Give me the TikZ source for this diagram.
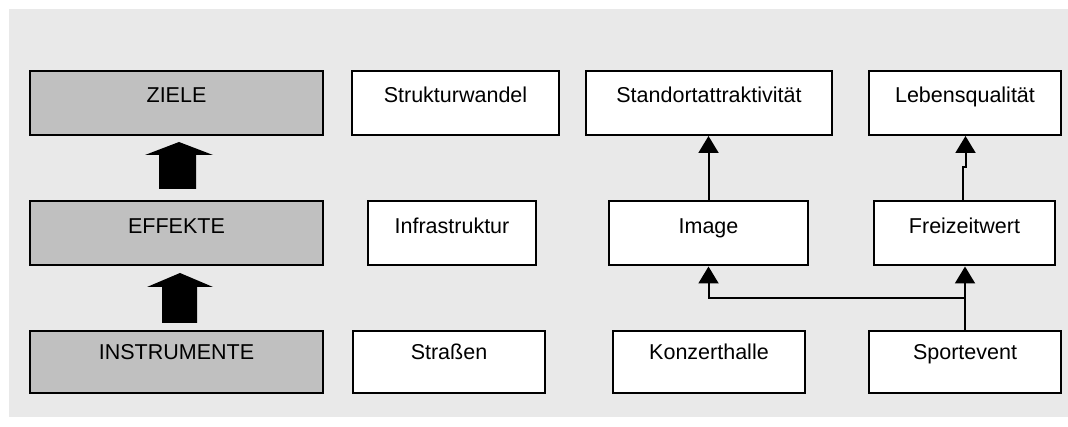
\documentclass[tikz,border=0pt]{standalone}
\usepackage{fontspec}
\setmainfont{Liberation Sans}
\usetikzlibrary{arrows.meta}
\definecolor{bggray}{HTML}{E9E9E9}
\definecolor{hdrgray}{HTML}{C0C0C0}
\begin{document}
\begin{tikzpicture}[x=1pt,y=-1pt,
  every node/.style={font=\fontsize{21.5pt}{22pt}\selectfont},
  boxA/.style={draw=black, line width=2pt, fill=white, inner xsep=0pt, inner ysep=0pt,
               anchor=north, text height=32pt, text depth=32pt},
  boxB/.style={boxA, text height=29pt, text depth=33pt},
  hdr/.style={fill=hdrgray},
  conn/.style={line width=2pt, -{Triangle[width=20pt,length=17pt]}},
  bigarrow/.style={fill=black}
]
\useasboundingbox (0,0) rectangle (1068,427);
\fill[bggray] (9,9) rectangle (1068,417);

% row 1
\node[boxA,hdr,minimum width=293pt] (ziele) at (176.5,70) {ZIELE};
\node[boxA,minimum width=207pt] (struk) at (455.5,70) {Strukturwandel};
\node[boxA,minimum width=246pt] (stand) at (709,70) {Standortattraktivität};
\node[boxA,minimum width=192pt] (leben) at (965,70) {Lebensqualität};
% row 2
\node[boxA,hdr,minimum width=293pt] (eff) at (176.5,200.5) {EFFEKTE};
\node[boxA,minimum width=168pt] (infra) at (452,200.5) {Infrastruktur};
\node[boxA,minimum width=199pt] (img) at (708.5,200.5) {Image};
\node[boxA,minimum width=181pt] (frei) at (964.5,200.5) {Freizeitwert};
% row 3
\node[boxB,hdr,minimum width=293pt] (instr) at (176.5,330) {INSTRUMENTE};
\node[boxB,minimum width=192pt] (str) at (449,330) {Straßen};
\node[boxB,minimum width=192pt] (konz) at (709,330) {Konzerthalle};
\node[boxB,minimum width=192pt] (sport) at (965,330) {Sportevent};

% big block arrows
\fill[bigarrow] (159,189) -- (159,155) -- (145,155) -- (179,142) -- (213,155) -- (196,155) -- (196,189) -- cycle;
\fill[bigarrow] (162,323) -- (162,287) -- (147,287) -- (180,273) -- (213,287) -- (197,287) -- (197,323) -- cycle;

% connectors
\draw[conn] (img.north) -- (img.north |- stand.south);
\draw[conn] ([xshift=-1.5pt]frei.north) -- ++(0,-33) -| ([xshift=0.5pt]leben.south);
\draw[conn] (sport.north) -- (sport.north |- frei.south);
\draw[conn] (sport.north) -- ++(0,-32) -| (img.south);
\end{tikzpicture}
\end{document}
